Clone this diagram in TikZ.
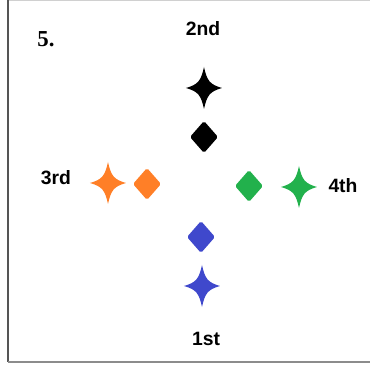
\documentclass[tikz,border=0pt]{standalone}
\usepackage{fontspec}
\setmainfont{Liberation Sans}
\newfontfamily\numfont{Liberation Serif}
\usepackage{xcolor}
\definecolor{inkblack}{HTML}{000000}
\definecolor{paintorange}{HTML}{FF7F27}
\definecolor{paintgreen}{HTML}{22B14C}
\definecolor{paintblue}{HTML}{3F48CC}
\definecolor{framedark}{HTML}{555555}
\definecolor{framegray}{HTML}{8C8C8C}
\definecolor{framelight}{HTML}{D0D0D0}
\usepackage{tikz}

\tikzset{
  sparkle/.pic={
    \fill[pic actions] (0,-21) .. controls (3,-7) and (6,-3.5) .. (18,0)
      .. controls (6,3.5) and (3,7) .. (0,21)
      .. controls (-3,7) and (-6,3.5) .. (-18,0)
      .. controls (-6,-3.5) and (-3,-7) .. cycle;
  },
  gem/.pic={
    \fill[pic actions, rounded corners=1pt] (0,-16) -- (14,0) -- (0,16) -- (-14,0) -- cycle;
  }
}

\begin{document}
\begin{tikzpicture}[
  x=0.02cm, y=-0.02cm,
  place/.style={font=\bfseries\fontsize{11}{13}\selectfont, inner sep=0pt},
  tag/.style={font=\numfont\bfseries\fontsize{13}{15}\selectfont, inner sep=0pt}
]
  \useasboundingbox (0,0) rectangle (370,367);

  % frame
  \draw[framelight, line width=0.6pt] (8,0.3) -- (370,0.3);
  \draw[framedark, line width=0.8pt] (8,0) -- (8,362);
  \draw[framegray, line width=1.2pt] (8,362) -- (370,362);

  \node[tag] (num) at (46,39) {5.};

  % labels
  \node[place] (second) at (203,29)  {2nd};
  \node[place] (third)  at (56,178)  {3rd};
  \node[place] (fourth) at (343,186) {4th};
  \node[place] (first)  at (206,339) {1st};

  % top: 2nd
  \pic[fill=inkblack] (blackstar) at (204,88) {sparkle};
  \pic[fill=inkblack] (blackgem) at (204,137) {gem};

  % left: 3rd
  \pic[fill=paintorange] (orangestar) at (108,183) {sparkle};
  \pic[fill=paintorange] (orangegem) at (147,184) {gem};

  % right: 4th
  \pic[fill=paintgreen] (greengem) at (249,186) {gem};
  \pic[fill=paintgreen] (greenstar) at (299,187) {sparkle};

  % bottom: 1st
  \pic[fill=paintblue] (bluegem) at (201,237) {gem};
  \pic[fill=paintblue] (bluestar) at (202,286) {sparkle};
\end{tikzpicture}
\end{document}
